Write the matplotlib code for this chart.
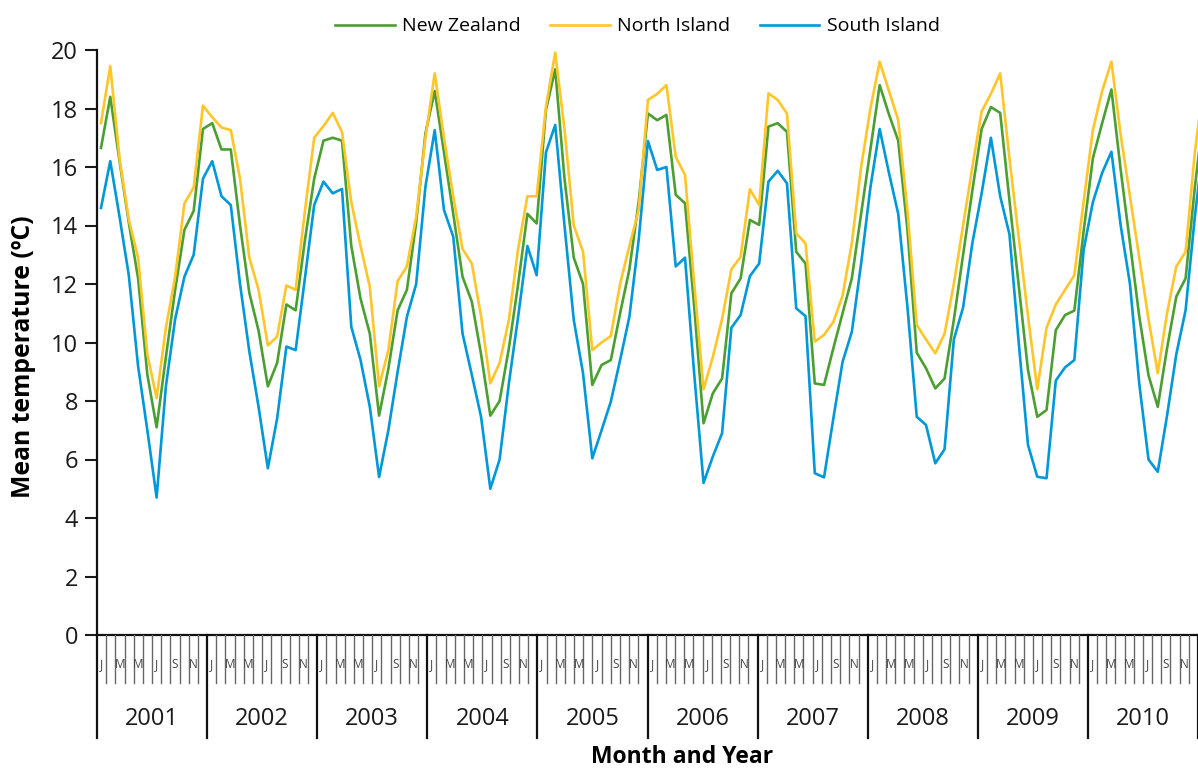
import numpy as np
import matplotlib.pyplot as plt

plt.rcParams['font.family'] = ['Open Sans', 'DejaVu Sans']

# monthly mean temperatures, Jan 2001 - Dec 2010
years = [2001, 2002, 2003, 2004, 2005, 2006, 2007, 2008, 2009, 2010]
month_letters = ['J', '', 'M', '', 'M', '', 'J', '', 'S', '', 'N', '']

new_zealand = [
    16.65, 18.4, 16.2, 14.1, 12.2, 8.9, 7.1, 9.5, 11.8, 13.85, 14.5, 17.3,
    17.5, 16.6, 16.6, 14.0, 11.7, 10.4, 8.5, 9.3, 11.3, 11.1, 13.5, 15.6,
    16.9, 17.0, 16.9, 13.3, 11.5, 10.3, 7.5, 9.1, 11.1, 11.8, 14.1, 17.15,
    18.6, 16.5, 14.4, 12.25, 11.4, 9.6, 7.5, 8.0, 9.8, 12.0, 14.4, 14.07,
    17.95, 19.34, 15.6, 12.9, 12.0, 8.55, 9.23, 9.4, 11.0, 12.5, 14.8, 17.83,
    17.6, 17.78, 15.05, 14.76, 11.2, 7.24, 8.26, 8.77, 11.68, 12.19, 14.19, 14.02,
    17.38, 17.5, 17.2, 13.1, 12.7, 8.6, 8.55, 9.8, 11.0, 12.2, 14.4, 16.6,
    18.8, 17.8, 16.9, 13.84, 9.65, 9.12, 8.43, 8.77, 10.77, 13.0, 15.2, 17.3,
    18.05, 17.85, 14.86, 11.95, 9.06, 7.46, 7.69, 10.42, 10.94, 11.09, 13.8, 16.3,
    17.5, 18.65, 15.9, 13.4, 10.9, 8.88, 7.8, 9.8, 11.57, 12.19, 15.3, 18.0,
]
north_island = [
    17.5, 19.45, 16.3, 14.2, 12.9, 9.6, 8.1, 10.5, 12.25, 14.75, 15.3, 18.1,
    17.7, 17.35, 17.26, 15.6, 12.9, 11.8, 9.9, 10.2, 11.95, 11.8, 14.5, 17.0,
    17.4, 17.85, 17.2, 14.8, 13.3, 11.9, 8.5, 9.74, 12.1, 12.6, 14.3, 17.0,
    19.2, 17.0, 15.0, 13.2, 12.7, 10.9, 8.6, 9.3, 10.77, 13.2, 15.0, 15.0,
    18.06, 19.91, 17.3, 14.0, 13.1, 9.74, 10.0, 10.22, 12.0, 13.3, 14.53, 18.29,
    18.5, 18.8, 16.35, 15.73, 12.0, 8.4, 9.5, 10.8, 12.5, 12.93, 15.24, 14.7,
    18.52, 18.29, 17.83, 13.73, 13.39, 10.03, 10.26, 10.7, 11.6, 13.4, 16.0, 18.0,
    19.6, 18.6, 17.6, 14.5, 10.6, 10.1, 9.63, 10.3, 12.0, 14.0, 16.0, 17.9,
    18.5, 19.2, 16.3, 13.6, 10.9, 8.4, 10.5, 11.3, 11.8, 12.3, 14.8, 17.26,
    18.6, 19.6, 17.1, 15.0, 12.9, 10.8, 8.95, 11.0, 12.6, 13.1, 16.5, 19.0,
]
south_island = [
    14.6, 16.2, 14.3, 12.3, 9.2, 7.0, 4.7, 8.5, 10.8, 12.25, 13.0, 15.6,
    16.2, 15.0, 14.7, 12.0, 9.7, 7.8, 5.7, 7.4, 9.86, 9.74, 12.2, 14.7,
    15.5, 15.1, 15.25, 10.54, 9.4, 7.8, 5.4, 7.0, 9.0, 10.88, 12.0, 15.33,
    17.26, 14.53, 13.62, 10.31, 8.9, 7.46, 5.0, 6.0, 8.6, 10.88, 13.3, 12.3,
    16.5, 17.44, 14.0, 10.77, 8.95, 6.04, 7.0, 7.98, 9.4, 10.88, 13.5, 16.89,
    15.9, 16.0, 12.6, 12.9, 8.9, 5.2, 6.1, 6.9, 10.5, 10.94, 12.27, 12.7,
    15.5, 15.87, 15.44, 11.17, 10.9, 5.53, 5.39, 7.4, 9.34, 10.37, 12.7, 15.3,
    17.3, 15.8, 14.4, 11.2, 7.46, 7.18, 5.87, 6.35, 10.1, 11.2, 13.4, 15.1,
    17.0, 15.0, 13.7, 10.0, 6.5, 5.41, 5.36, 8.7, 9.15, 9.4, 13.16, 14.8,
    15.8, 16.52, 14.0, 12.0, 8.6, 6.0, 5.58, 7.5, 9.6, 11.1, 14.3, 17.0,
]

W, H = 1198, 769
fig = plt.figure(figsize=(W / 100, H / 100), dpi=100)

# plot area in pixels
left, right, top, bottom = 97, 1198, 50, 635
ax = fig.add_axes([left / W, 1 - bottom / H, (right - left) / W, (bottom - top) / H])

months = np.arange(len(new_zealand))
lw = 1.9
ax.plot(months, new_zealand, color='#4b9f32', lw=lw, label='New Zealand')
ax.plot(months, north_island, color='#ffc529', lw=lw, label='North Island')
ax.plot(months, south_island, color='#0098d8', lw=lw, label='South Island')

ax.set_xlim(-0.43, 118.34)
ax.set_ylim(0, 20)
ax.set_yticks(np.arange(0, 21, 2))
ax.set_xticks([])
ax.tick_params(axis='y', direction='out', length=8.5, width=1.5, pad=5,
               labelsize=17, colors='#1a1a1a')
for s in ['top', 'right']:
    ax.spines[s].set_visible(False)
for s in ['left', 'bottom']:
    ax.spines[s].set_linewidth(1.6)
    ax.spines[s].set_color('#111111')
ax.set_ylabel('Mean temperature (ºC)', fontsize=17.8, fontweight='bold')
ax.yaxis.set_label_coords(-0.0554, 0.475)

ax.legend(loc='lower center', bbox_to_anchor=(0.491, 1.0), ncol=3, frameon=False,
          fontsize=14, handlelength=3.05, columnspacing=1.5, handletextpad=0.4,
          borderaxespad=0.35)

# two-level category axis (months / years)
cat_bottom = 740
cax = fig.add_axes([left / W, 1 - cat_bottom / H, (right - left) / W, (cat_bottom - bottom) / H])
cax.set_xlim(0, 12 * len(years))
cax.set_ylim(cat_bottom - bottom, 0)
cax.axis('off')

n = 12 * len(years)
for k in range(n + 1):
    if k % 12 == 0:
        cax.plot([k, k], [0, 103], color='#111111', lw=1.6, clip_on=False)
    else:
        cax.plot([k, k], [0, 48], color='#666666', lw=1.0, clip_on=False)
for k in range(n):
    lab = month_letters[k % 12]
    if lab:
        cax.text(k + 0.5, 30, lab, ha='center', va='center', fontsize=8.5, color='#444444')
for i, yr in enumerate(years):
    cax.text(12 * i + 6, 84, str(yr), ha='center', va='center', fontsize=17, color='#1a1a1a')

fig.text(682 / W, 1 - 757 / H, 'Month and Year', ha='center', va='center',
         fontsize=16.5, fontweight='bold')

fig.savefig('out.png', dpi=100)
